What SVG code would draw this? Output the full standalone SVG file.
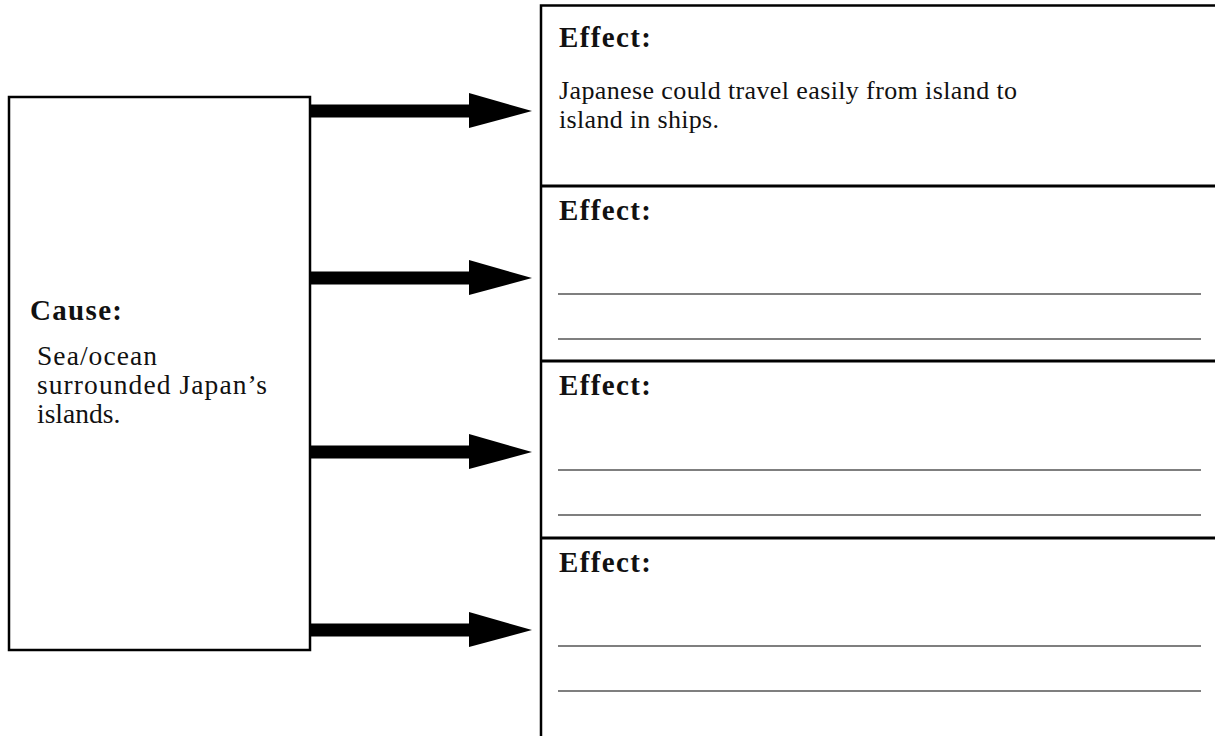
<svg xmlns="http://www.w3.org/2000/svg" width="1215" height="736" viewBox="0 0 1215 736">
<defs>
<style>
.box{fill:#fff;stroke:#000;stroke-width:2.5}
.div{stroke:#000;stroke-width:3}
.rule{stroke:#555;stroke-width:1.6}
.hd{font-family:"Liberation Serif",serif;font-weight:bold;font-size:29px;fill:#111}
.tx{font-family:"Liberation Serif",serif;font-size:26px;fill:#111}
.cx{font-size:27.5px}
.shaft{fill:#000}
</style>
<g id="arrowShape">
<rect x="311" y="-6.5" width="160" height="13" class="shaft"/>
<polygon points="469,-18 469,17 532,0" fill="#000"/>
</g>
</defs>
<rect width="1215" height="736" fill="#fff"/>
<g id="connectors">
<use href="#arrowShape" y="111"/>
<use href="#arrowShape" y="278"/>
<use href="#arrowShape" y="452"/>
<use href="#arrowShape" y="630"/>
</g>
<g id="cause">
<rect x="9" y="97" width="301" height="553" class="box"/>
<text x="30" y="320" class="hd" textLength="92">Cause:</text>
<text x="37" y="365" class="tx cx" textLength="120">Sea/ocean</text>
<text x="37" y="394" class="tx cx" textLength="230">surrounded Japan’s</text>
<text x="37" y="423" class="tx cx">islands.</text>
</g>
<g id="effects-frame">
<rect x="541" y="5.5" width="690" height="740" class="box"/>
</g>
<g id="effect1">
<text x="559" y="47" class="hd" textLength="92">Effect:</text>
<text x="559" y="99" class="tx" textLength="458">Japanese could travel easily from island to</text>
<text x="559" y="128" class="tx" textLength="160">island in ships.</text>
</g>
<g id="effect2">
<line x1="541" y1="186" x2="1215" y2="186" class="div"/>
<text x="559" y="220" class="hd" textLength="92">Effect:</text>
<line x1="558" y1="294" x2="1201" y2="294" class="rule"/>
<line x1="558" y1="339" x2="1201" y2="339" class="rule"/>
</g>
<g id="effect3">
<line x1="541" y1="361" x2="1215" y2="361" class="div"/>
<text x="559" y="395" class="hd" textLength="92">Effect:</text>
<line x1="558" y1="470" x2="1201" y2="470" class="rule"/>
<line x1="558" y1="515" x2="1201" y2="515" class="rule"/>
</g>
<g id="effect4">
<line x1="541" y1="538" x2="1215" y2="538" class="div"/>
<text x="559" y="572" class="hd" textLength="92">Effect:</text>
<line x1="558" y1="646" x2="1201" y2="646" class="rule"/>
<line x1="558" y1="691" x2="1201" y2="691" class="rule"/>
</g>
</svg>
